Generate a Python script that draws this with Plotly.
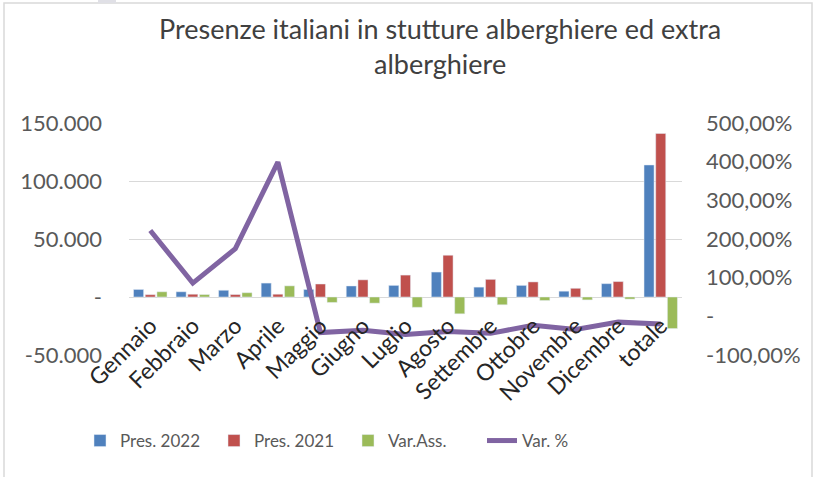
import plotly.graph_objects as go

months = ["Gennaio", "Febbraio", "Marzo", "Aprile", "Maggio", "Giugno", "Luglio",
          "Agosto", "Settembre", "Ottobre", "Novembre", "Dicembre", "totale"]
pres_2022 = [6500, 4500, 5800, 12000, 6500, 9500, 10000, 21500, 8500, 10000, 5000, 11500, 113800]
pres_2021 = [2000, 2400, 2100, 2400, 11200, 14800, 18900, 36000, 15200, 13000, 7500, 13300, 141000]
var_ass = [4500, 2100, 3700, 9600, -4700, -5300, -8900, -14500, -6700, -3000, -2500, -1800, -27200]
var_pct = [2.22, 0.86, 1.75, 3.99, -0.42, -0.36, -0.47, -0.39, -0.44, -0.23, -0.34, -0.15, -0.20]

left_vals = [-50000, 0, 50000, 100000, 150000]
left_text = ["-50.000", "-", "50.000", "100.000", "150.000"]
right_vals = [-1, 0, 1, 2, 3, 4, 5]
right_text = ["-100,00%", "-", "100,00%", "200,00%", "300,00%", "400,00%", "500,00%"]

FONT = "Lato"
W, H = 815, 477
L, R, T, B = 129, 133, 123, 122
pw, ph = W - L - R, H - T - B

def px_x(p):
    return (p - L) / pw

def px_y(p):
    return (H - B - p) / ph

fig = go.Figure()
fig.add_trace(go.Bar(x=months, y=pres_2022, name="Pres. 2022", marker_color="#4f81bd"))
fig.add_trace(go.Bar(x=months, y=pres_2021, name="Pres. 2021", marker_color="#c0504d"))
fig.add_trace(go.Bar(x=months, y=var_ass, name="Var.Ass.", marker_color="#9bbb59"))
fig.add_trace(go.Scatter(x=months, y=var_pct, name="Var. %", mode="lines", yaxis="y2",
                         line=dict(color="#8064a2", width=5)))

fig.update_layout(
    width=W, height=H,
    margin=dict(l=L, r=R, t=T, b=B),
    paper_bgcolor="white", plot_bgcolor="white",
    font=dict(family=FONT, color="#595959"),
    barmode="group", bargap=0.176, bargroupgap=0.14,
    xaxis=dict(anchor="free", position=0.25 - 10 / ph, tickangle=-45, showgrid=False,
               showline=False, ticks="", tickfont=dict(size=23, color="#262626"),
               range=[-0.5, 12.5]),
    yaxis=dict(range=[-50000, 150000], tickvals=left_vals, ticktext=left_text,
               showgrid=True, gridcolor="#d9d9d9", gridwidth=1.3, zeroline=True,
               zerolinecolor="#d9d9d9", zerolinewidth=1.3,
               tickfont=dict(size=22, color="#595959"), ticklabelstandoff=26),
    yaxis2=dict(range=[-1, 5], overlaying="y", side="right", tickvals=right_vals,
                ticktext=right_text, showgrid=False, zeroline=False,
                tickfont=dict(size=22, color="#595959"), ticklabelstandoff=23),
    legend=dict(orientation="h", x=px_x(80), xanchor="left", y=px_y(441), yanchor="middle",
                font=dict(size=17, color="#595959"), entrywidth=89, entrywidthmode="pixels",
                traceorder="normal"),
    showlegend=True,
)

fig.add_annotation(text="Presenze italiani in stutture alberghiere ed extra<br>alberghiere",
                   xref="paper", yref="paper", x=px_x(440), y=px_y(10),
                   xanchor="center", yanchor="top", showarrow=False, align="center",
                   font=dict(family=FONT, size=27, color="#404040"))

fig.add_shape(type="rect", xref="paper", yref="paper",
              x0=px_x(4), x1=px_x(812), y0=px_y(485), y1=px_y(3),
              line=dict(color="#d9d9d9", width=1.5), fillcolor="rgba(0,0,0,0)", layer="below")
fig.add_shape(type="rect", xref="paper", yref="paper",
              x0=px_x(98), x1=px_x(116), y0=px_y(3), y1=px_y(-2),
              line=dict(width=0), fillcolor="#e0e0e6", layer="below")

fig.write_html("out.html", config={"displayModeBar": False},
               post_script="document.body.style.margin='0';document.body.style.overflow='hidden';")
